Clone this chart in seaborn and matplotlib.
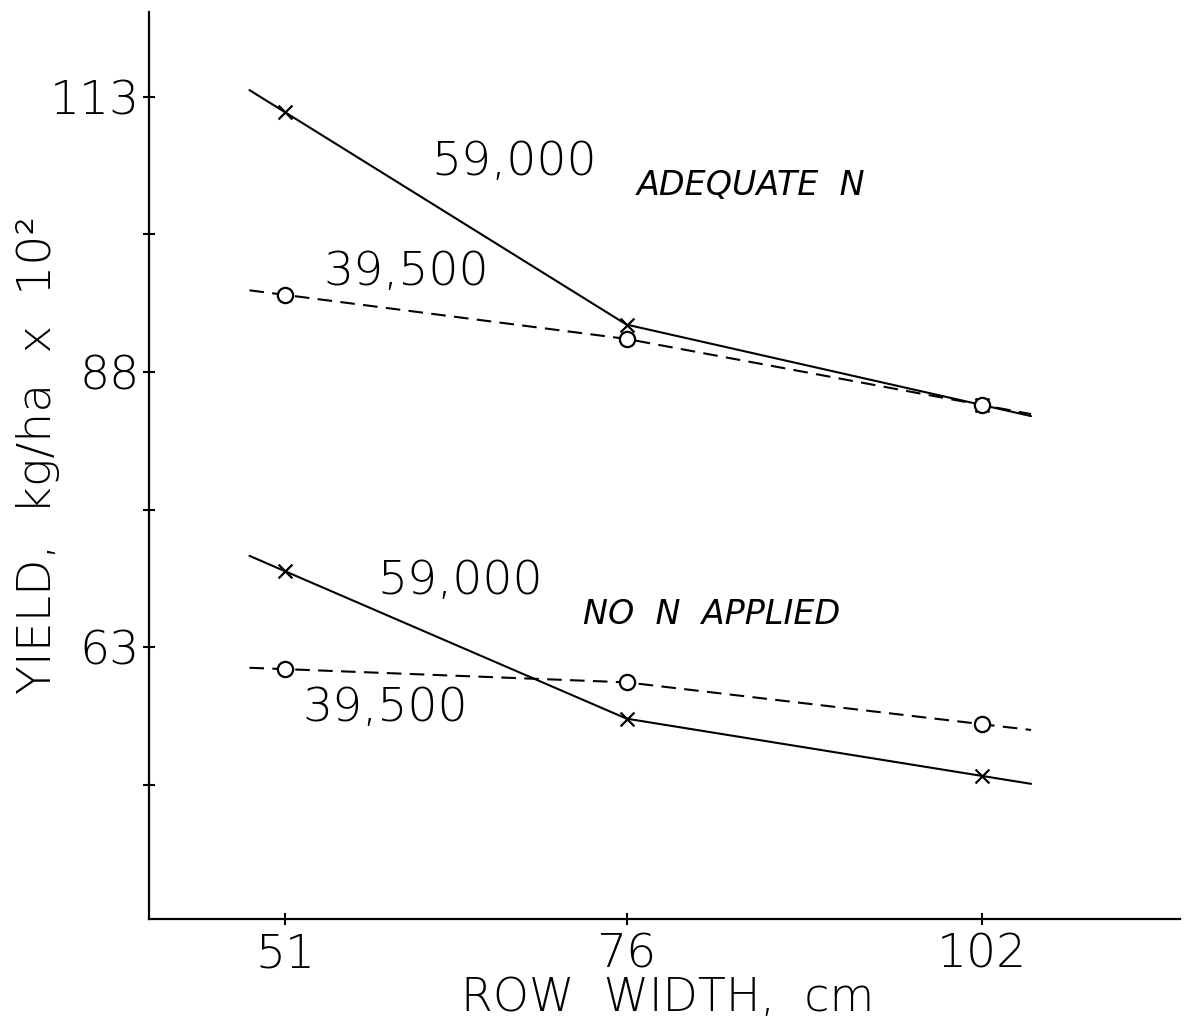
import numpy as np
import pandas as pd
import matplotlib
matplotlib.use("Agg")
import matplotlib.pyplot as plt
import seaborn as sns

# ---- data ----
row_width = [51, 76, 102]
adequate_59000 = [111.6, 92.3, 85.0]
adequate_39500 = [95.0, 91.0, 85.0]
non_59000 = [69.9, 56.5, 51.3]
non_39500 = [61.0, 59.8, 56.0]
y_major = [63, 88, 113]
y_minor = [50.5, 75.5, 100.5]
x_ticks = [51, 76, 102]

series = {
    ("ADEQUATE N", "59,000"): adequate_59000,
    ("ADEQUATE N", "39,500"): adequate_39500,
    ("NO N APPLIED", "59,000"): non_59000,
    ("NO N APPLIED", "39,500"): non_39500,
}

# lines in the drawing run a little past the end points: extend end segments
x_lo, x_hi = 48.4, 105.6


def extend(xs, ys):
    xs = list(xs); ys = list(ys)
    s0 = (ys[1] - ys[0]) / (xs[1] - xs[0])
    s1 = (ys[-1] - ys[-2]) / (xs[-1] - xs[-2])
    return [x_lo] + xs + [x_hi], [ys[0] + s0 * (x_lo - xs[0])] + ys + [ys[-1] + s1 * (x_hi - xs[-1])]


line_rows, pt_rows = [], []
for (grp, dens), vals in series.items():
    ex, ey = extend(row_width, vals)
    for x, y in zip(ex, ey):
        line_rows.append(dict(grp=grp, density=dens, key=grp + dens, x=x, y=y))
    for x, y in zip(row_width, vals):
        pt_rows.append(dict(grp=grp, density=dens, x=x, y=y))
lines = pd.DataFrame(line_rows)
pts = pd.DataFrame(pt_rows)

sns.set_style("white")
plt.rcParams["font.family"] = ["DejaVu Sans"]
plt.rcParams["text.color"] = "black"
plt.rcParams["axes.labelcolor"] = "black"
plt.rcParams["xtick.color"] = "black"
plt.rcParams["ytick.color"] = "black"

fig = plt.figure(figsize=(11.87, 10.22), dpi=100)
ax = fig.add_axes([149 / 1187, 1 - 919 / 1022, (1180 - 149) / 1187, (919 - 12) / 1022])

sns.lineplot(data=lines, x="x", y="y", units="key", estimator=None, style="density",
             dashes={"59,000": "", "39,500": (7, 4)}, color="black", lw=1.5,
             sort=False, legend=False, ax=ax)

for dens, mk, ms in [("59,000", "x", 100), ("39,500", "o", 120)]:
    sub = pts[pts["density"] == dens]
    sns.scatterplot(data=sub, x="x", y="y", marker=mk, s=ms,
                    color="white" if mk == "o" else "black",
                    edgecolor="black", linewidth=1.6, legend=False, ax=ax, zorder=3)

ax.set_xlim(41.05, 116.5)
ax.set_ylim(38.3, 120.7)

for s in ["top", "right"]:
    ax.spines[s].set_visible(False)
for s in ["left", "bottom"]:
    ax.spines[s].set_color("black")
    ax.spines[s].set_linewidth(1.6)

ax.set_yticks(y_major)
ax.set_yticks(y_minor, minor=True)
ax.set_xticks(x_ticks)
ax.set_yticklabels([str(v) for v in y_major])
ax.set_xticklabels([str(v) for v in x_ticks])
ax.tick_params(axis="both", which="both", direction="inout", length=9, width=1.5,
               colors="black", labelcolor="black", labelsize=34, left=True, bottom=True)
ax.tick_params(axis="y", pad=2)
ax.tick_params(axis="x", pad=5)
for lab in ax.get_xticklabels() + ax.get_yticklabels():
    lab.set_fontweight("light")

ax.set_xlabel("")
ax.set_ylabel("")
fig.text(668 / 1187, 1 - 998 / 1022, "ROW  WIDTH,  cm", fontsize=33, fontweight="light",
         ha="center", va="center", color="black")
fig.text(38 / 1187, 1 - 455 / 1022, "YIELD,  kg/ha  x  10²", fontsize=34, fontweight="light",
         ha="center", va="center", rotation=90, color="black")

big = dict(fontsize=34, fontweight="light", ha="center", va="center", color="black")
small = dict(fontsize=24, fontweight="normal", fontstyle="italic", ha="center", va="center", color="black")
ax.text(67.8, 107.1, "59,000", **big)
ax.text(85.1, 104.9, "ADEQUATE  N", **small)
ax.text(59.9, 97.1, "39,500", **big)
ax.text(63.8, 69.0, "59,000", **big)
ax.text(82.2, 66.0, "NO  N  APPLIED", **small)
ax.text(58.3, 57.5, "39,500", **big)

fig.savefig("out.png", dpi=100)
